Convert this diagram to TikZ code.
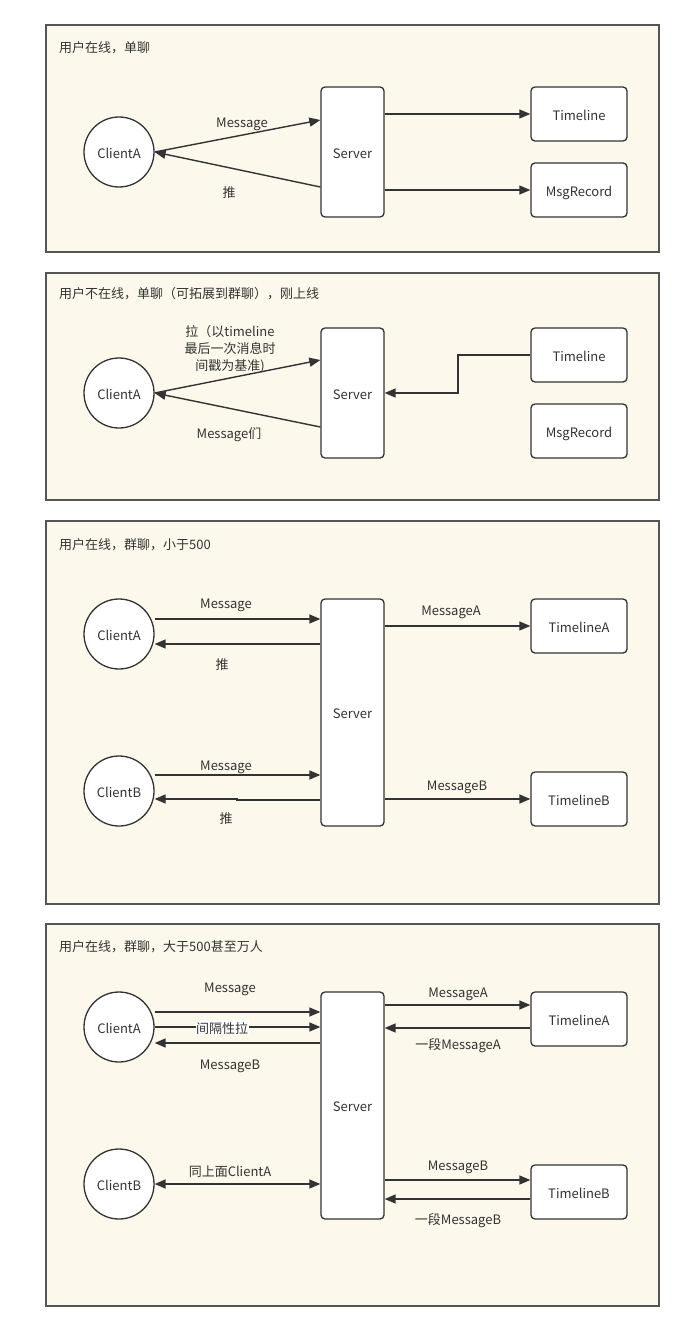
\documentclass[tikz,border=0pt]{standalone}
\usepackage{fontspec}
\setmainfont{Noto Sans CJK SC}
\usetikzlibrary{arrows.meta,calc}
\definecolor{panelfill}{HTML}{FCF8EB}
\definecolor{panelline}{HTML}{555555}
\definecolor{ink}{HTML}{333333}
\begin{document}
\begin{tikzpicture}[x=1pt,y=-1pt,
  every node/.style={font=\fontsize{13}{17}\selectfont, text=ink, text height=13pt, text depth=0.5pt},
  panel/.style={draw=panelline, line width=2pt, fill=panelfill},
  ptitle/.style={anchor=west, inner sep=0pt},
  client/.style={circle, draw=ink, line width=1.3pt, fill=white, minimum size=70pt, inner sep=0pt},
  box/.style={draw=ink, line width=1.3pt, fill=white, rounded corners=4pt, minimum width=96pt, minimum height=54pt, inner sep=0pt},
  server/.style={box, minimum width=63pt},
  arr/.style={draw=ink, line width=1.4pt, -{Triangle[length=11pt,width=9pt]}},
  dblarr/.style={draw=ink, line width=1.4pt, {Triangle[length=11pt,width=9pt]}-{Triangle[length=11pt,width=9pt]}},
  lbl/.style={inner sep=1pt},
]
\useasboundingbox (0,0) rectangle (684,1332);
\fill[white] (0,0) rectangle (684,1332);

% ---------- Panel 1 ----------
\draw[panel] (46,25) rectangle (659,252);
\node[ptitle] (t1) at (59,46) {用户在线，单聊};
\node[client] (a1) at (119,152) {ClientA};
\node[server, minimum height=130pt] (s1) at (352.5,152) {Server};
\node[box] (tl1) at (579,114) {Timeline};
\node[box] (mr1) at (579,190) {MsgRecord};
\draw[arr] (a1.east) -- (s1.west |- 0,120);
\draw[arr] (s1.west |- 0,187) -- (a1.east);
\node[lbl] (l1a) at (242,121) {Message};
\node[lbl] (l1b) at (229,191) {推};
\draw[arr] (s1.east |- tl1.west) -- (tl1.west);
\draw[arr] (s1.east |- mr1.west) -- (mr1.west);

% ---------- Panel 2 ----------
\draw[panel] (46,273) rectangle (659,500);
\node[ptitle] (t2) at (59,292) {用户不在线，单聊（可拓展到群聊），刚上线};
\node[client] (a2) at (119,393) {ClientA};
\node[server, minimum height=130pt] (s2) at (352.5,393) {Server};
\node[box] (tl2) at (579,355) {Timeline};
\node[box] (mr2) at (579,431) {MsgRecord};
\draw[arr] (a2.east) -- (s2.west |- 0,360);
\draw[arr] (s2.west |- 0,427) -- (a2.east);
\node[lbl, align=center] (l2a) at (230,364) {拉（以timeline\\最后一次消息时\\间戳为基准)};
\node[lbl] (l2b) at (229,432) {Message们};
\draw[arr] (tl2.west) -- (458,355) -- (458,393) -- (s2.east);

% ---------- Panel 3 ----------
\draw[panel] (46,521) rectangle (659,904);
\node[ptitle] (t3) at (59,543) {用户在线，群聊，小于500};
\node[client] (a3) at (119,634) {ClientA};
\node[client] (b3) at (119,791) {ClientB};
\node[server, minimum height=227pt] (s3) at (352.5,712.5) {Server};
\node[box] (ta3) at (579,626) {TimelineA};
\node[box] (tb3) at (579,799) {TimelineB};
\draw[arr] (a3.east |- 0,619) -- (s3.west |- 0,619);
\draw[arr] (s3.west |- 0,644) -- (a3.east |- 0,644);
\node[lbl] (l3a) at (226,602) {Message};
\node[lbl] (l3b) at (222,663) {推};
\draw[arr] (b3.east |- 0,775) -- (s3.west |- 0,775);
\draw[arr] (s3.west |- 0,800) -- (237,800) -- (237,799) -- (b3.east |- 0,799);
\node[lbl] (l3c) at (226,764) {Message};
\node[lbl] (l3d) at (226,817) {推};
\draw[arr] (s3.east |- ta3.west) -- (ta3.west);
\draw[arr] (s3.east |- tb3.west) -- (tb3.west);
\node[lbl] (l3e) at (451,609) {MessageA};
\node[lbl] (l3f) at (457,784) {MessageB};

% ---------- Panel 4 ----------
\draw[panel] (46,924) rectangle (659,1306);
\node[ptitle] (t4) at (59,945) {用户在线，群聊，大于500甚至万人};
\node[client] (a4) at (119,1027) {ClientA};
\node[client] (b4) at (119,1184) {ClientB};
\node[server, minimum height=227pt] (s4) at (352.5,1105.5) {Server};
\node[box] (ta4) at (579,1019) {TimelineA};
\node[box] (tb4) at (579,1192) {TimelineB};
\draw[arr] (a4.east |- 0,1012) -- (s4.west |- 0,1012);
\draw[arr] (a4.east) -- (s4.west |- a4.east);
\node[lbl, fill=white, inner sep=0.5pt] (l4b) at (222,1027) {间隔性拉};
\draw[arr] (s4.west |- 0,1043) -- (a4.east |- 0,1043);
\node[lbl] (l4a) at (230,986) {Message};
\node[lbl] (l4c) at (230,1063) {MessageB};
\draw[dblarr] (b4.east) -- (s4.west |- b4.east);
\node[lbl] (l4d) at (230,1170) {同上面ClientA};
\draw[arr] (s4.east |- 0,1005) -- (ta4.west |- 0,1005);
\draw[arr] (ta4.west |- 0,1028) -- (s4.east |- 0,1028);
\draw[arr] (s4.east |- 0,1180) -- (tb4.west |- 0,1180);
\draw[arr] (tb4.west |- 0,1199) -- (s4.east |- 0,1199);
\node[lbl] (l4e) at (458,991) {MessageA};
\node[lbl] (l4f) at (458,1043) {一段MessageA};
\node[lbl] (l4g) at (458,1164) {MessageB};
\node[lbl] (l4h) at (458,1218) {一段MessageB};
\end{tikzpicture}
\end{document}
